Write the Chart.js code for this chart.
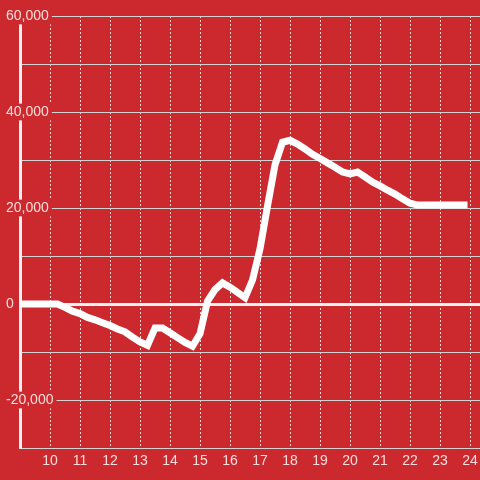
<!DOCTYPE html>
<html lang="en">
<head>
    <meta charset="UTF-8">
    <title>Chart</title>
    <style>
        html, body { margin: 0; padding: 0; background: rgb(204, 41, 46); }
        canvas { display: block; }
    </style>
</head>
<body>

      <canvas id="myChart" width="480" height="480"></canvas>
      <script src="https://cdn.jsdelivr.net/npm/chart.js"></script>
      <script>
          // hours of the day and the value at each
          const hours = [9, 9.25, 9.5, 9.75, 10, 10.25, 10.5, 10.75, 11, 11.25, 11.5, 11.75,
              12, 12.25, 12.5, 12.75, 13, 13.25, 13.5, 13.75, 14, 14.25, 14.5, 14.75,
              15, 15.25, 15.5, 15.75, 16, 16.25, 16.5, 16.75, 17, 17.25, 17.5, 17.75,
              18, 18.25, 18.5, 18.75, 19, 19.25, 19.5, 19.75, 20, 20.25, 20.5, 20.75,
              21, 21.25, 21.5, 21.75, 22, 22.25, 22.5, 22.75, 23, 23.25, 23.5, 23.8];
          const values = [0, 0, 0, 0, 0, 0, -700, -1500, -2000, -2800, -3300, -3900,
              -4500, -5200, -5800, -6900, -7900, -8600, -5000, -5000, -6000, -7000, -8000, -8800,
              -6200, 600, 3000, 4400, 3500, 2400, 1300, 5000, 11500, 20400, 29000, 33700,
              34100, 33300, 32300, 31200, 30300, 29400, 28500, 27500, 27100, 27500, 26500, 25400,
              24600, 23700, 22900, 21900, 21000, 20600, 20600, 20600, 20600, 20600, 20600, 20600];
          const xTicks = [10, 11, 12, 13, 14, 15, 16, 17, 18, 19, 20, 21, 22, 23, 24];

          const red = 'rgb(204, 41, 46)';
          const textColor = 'rgba(255, 240, 240, 0.9)';

          let ctx = document.querySelector('#myChart').getContext('2d');

          let myChart = new Chart(ctx, {
              type: 'line',
              data: {
                  datasets: [{
                      data: hours.map((h, i) => ({ x: h, y: values[i] })),
                      borderColor: '#ffffff',
                      borderWidth: 7,
                      borderCapStyle: 'square',
                      pointRadius: 0,
                      tension: 0,
                      fill: false
                  }]
              },
              options: {
                  responsive: false,
                  animation: false,
                  layout: { padding: { top: 16, right: 0, bottom: 0, left: 0 } },
                  plugins: {
                      legend: { display: false },
                      tooltip: { enabled: false }
                  },
                  scales: {
                      x: {
                          type: 'linear',
                          min: 9,
                          max: 24.333,
                          afterBuildTicks: s => { s.ticks = xTicks.map(v => ({ value: v })); },
                          afterFit: s => { s.height = 32; },
                          border: { display: false, dash: [2, 2] },
                          grid: {
                              color: 'rgba(235, 235, 235, 0.9)',
                              lineWidth: 1,
                              drawTicks: true,
                              tickLength: 5,
                              tickColor: 'rgba(0,0,0,0)'
                          },
                          ticks: {
                              color: textColor,
                              padding: 0,
                              maxRotation: 0,
                              autoSkip: false,
                              font: { family: 'Liberation Sans', size: 14 }
                          }
                      },
                      y: {
                          min: -30000,
                          max: 60000,
                          afterFit: s => { s.width = 20; },
                          border: { color: '#f2f2f2', width: 3 },
                          grid: {
                              color: c => c.tick && c.tick.value === 0 ? '#f2f2f2' : 'rgba(210, 210, 210, 1)',
                              lineWidth: c => c.tick && c.tick.value === 0 ? 3 : 1,
                              drawTicks: false
                          },
                          ticks: {
                              stepSize: 10000,
                              mirror: true,
                              padding: -14,
                              color: textColor,
                              font: { family: 'Liberation Sans', size: 14 },
                              showLabelBackdrop: true,
                              backdropColor: c => c.tick && c.tick.value % 20000 === 0 ? red : 'rgba(0,0,0,0)',
                              backdropPadding: { x: 3, y: 0 },
                              callback: v => v % 20000 === 0 ? v.toLocaleString('en-US') : ''
                          }
                      }
                  }
              }
          });
      </script>
      
</body>
</html>
